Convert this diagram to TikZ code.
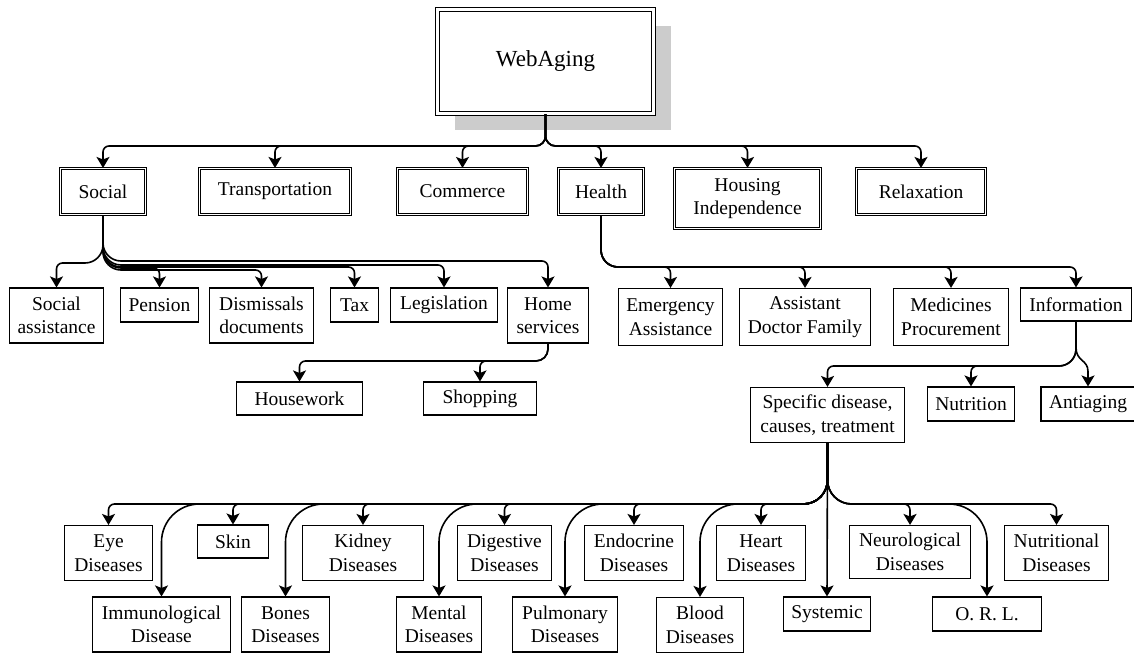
\documentclass[tikz,border=0pt]{standalone}
\usepackage{fontspec}
\setmainfont{Liberation Serif}
\usetikzlibrary{arrows.meta,calc,shadows}

\begin{document}
\begin{tikzpicture}[x=1pt, y=-1pt,
        box/.style={draw, line width=1.1pt, inner xsep=8pt, inner ysep=2pt, align=center,
            font=\fontsize{19.5}{23.5}\selectfont, minimum height=34pt},
        tallbox/.style={box, minimum height=55pt},
        topbox/.style={box, double, line width=1.1pt, double distance=1.4pt, minimum height=46pt},
        link/.style={line width=1.6pt, -{Stealth[length=11pt, width=13pt, inset=2.5pt]}}]
        \useasboundingbox (0,0) rectangle (1134,655);

        \node[draw, double, double distance=2.5pt, line width=1.3pt, fill=white,
            minimum width=216pt, minimum height=104pt, font=\fontsize{23}{27}\selectfont,
            drop shadow={shadow xshift=17pt, shadow yshift=-17pt, fill=black!20, opacity=1}]
            (web) at (545.5,61.5) {WebAging};

        \node[topbox, minimum width=85pt] (social) at (103,191.5) {Social};
        \node[topbox, minimum width=151pt] (transport) at (275,191.5) {Transportation};
        \node[topbox, minimum width=130pt] (commerce) at (462.5,191.5) {Commerce};
        \node[topbox, minimum width=85pt] (health) at (601,191.5) {Health};
        \node[topbox, minimum width=146pt, minimum height=60pt] (housing) at (747.5,198.5) {Housing\\Independence};
        \node[topbox, minimum width=129pt] (relax) at (921,191.5) {Relaxation};

        \node[tallbox, minimum width=92pt] (assist) at (56.5,315.5) {Social\\assistance};
        \node[box, minimum width=76pt] (pension) at (159.5,305) {Pension};
        \node[tallbox, minimum width=104pt] (dismiss) at (261.5,315.5) {Dismissals\\documents};
        \node[box, minimum width=48pt] (tax) at (354.5,305) {Tax};
        \node[box, minimum width=107pt] (legis) at (444,305) {Legislation};
        \node[tallbox, minimum width=81pt] (home) at (548,315.5) {Home\\services};

        \node[tallbox, minimum width=104pt, minimum height=57pt] (emergency) at (670.5,317) {Emergency\\Assistance};
        \node[tallbox, minimum width=131pt, minimum height=57pt] (doctor) at (805,317) {Assistant\\Doctor Family};
        \node[tallbox, minimum width=115pt, minimum height=57pt] (medicines) at (951,317) {Medicines\\Procurement};
        \node[box, minimum width=111pt, minimum height=33pt] (info) at (1076,304.5) {Information};

        \node[box, minimum width=126pt, minimum height=33pt] (housework) at (299.5,398.5) {Housework};
        \node[box, minimum width=113pt, minimum height=33pt] (shopping) at (480,398.5) {Shopping};

        \node[tallbox, minimum width=154pt] (specific) at (827.5,415) {Specific disease,\\causes, treatment};
        \node[box, minimum width=87pt] (nutrition) at (971,404) {Nutrition};
        \node[box, minimum width=88pt] (antiaging) at (1088,404) {Antiaging};

        \node[tallbox, minimum width=88pt] (eye) at (108.5,553) {Eye\\Diseases};
        \node[box, minimum width=71pt, minimum height=33pt] (skin) at (233,541.5) {Skin};
        \node[tallbox, minimum width=121pt] (kidney) at (363,553) {Kidney\\Diseases};
        \node[tallbox, minimum width=94pt] (digestive) at (504.5,553) {Digestive\\Diseases};
        \node[tallbox, minimum width=99pt] (endocrine) at (634,553) {Endocrine\\Diseases};
        \node[tallbox, minimum width=89pt] (heart) at (761,553) {Heart\\Diseases};
        \node[tallbox, minimum width=121pt, minimum height=53pt] (neuro) at (910,552) {Neurological\\Diseases};
        \node[tallbox, minimum width=104pt] (nutritional) at (1056.5,553) {Nutritional\\Diseases};

        \node[tallbox, minimum width=138pt] (immuno) at (161.5,624.5) {Immunological\\Disease};
        \node[tallbox, minimum width=88pt] (bones) at (285.5,624.5) {Bones\\Diseases};
        \node[tallbox, minimum width=85pt] (mental) at (439,624.5) {Mental\\Diseases};
        \node[tallbox, minimum width=105pt] (pulmonary) at (565,624.5) {Pulmonary\\Diseases};
        \node[tallbox, minimum width=87pt] (blood) at (700,625) {Blood\\Diseases};
        \node[box, minimum width=87pt] (systemic) at (827,614) {Systemic};
        \node[box, minimum width=109pt] (orl) at (987,614) {O. R. L.};

        \draw[link, rounded corners=10pt] (web.south) -- (web.south |- 0,146) [rounded corners=6pt] -- (social.north |- 0,146) -- (social.north);
        \draw[link, rounded corners=10pt] (web.south) -- (web.south |- 0,146) [rounded corners=6pt] -- (transport.north |- 0,146) -- (transport.north);
        \draw[link, rounded corners=10pt] (web.south) -- (web.south |- 0,146) [rounded corners=6pt] -- (commerce.north |- 0,146) -- (commerce.north);
        \draw[link, rounded corners=10pt] (web.south) -- (web.south |- 0,146) [rounded corners=6pt] -- (health.north |- 0,146) -- (health.north);
        \draw[link, rounded corners=10pt] (web.south) -- (web.south |- 0,146) [rounded corners=6pt] -- (housing.north |- 0,146) -- (housing.north);
        \draw[link, rounded corners=10pt] (web.south) -- (web.south |- 0,146) [rounded corners=6pt] -- (relax.north |- 0,146) -- (relax.north);

        \draw[link, rounded corners=18pt] (social.south) -- (social.south |- 0,263) [rounded corners=6pt] -- (assist.north |- 0,263) -- (assist.north);
        \draw[link, rounded corners=18pt] (social.south) -- (social.south |- 0,268) [rounded corners=6pt] -- (pension.north |- 0,268) -- (pension.north);
        \draw[link, rounded corners=18pt] (social.south) -- (social.south |- 0,270) [rounded corners=6pt] -- (dismiss.north |- 0,270) -- (dismiss.north);
        \draw[link, rounded corners=18pt] (social.south) -- (social.south |- 0,267) [rounded corners=6pt] -- (tax.north |- 0,267) -- (tax.north);
        \draw[link, rounded corners=18pt] (social.south) -- (social.south |- 0,265) [rounded corners=6pt] -- (legis.north |- 0,265) -- (legis.north);
        \draw[link, rounded corners=18pt] (social.south) -- (social.south |- 0,261) [rounded corners=6pt] -- (home.north |- 0,261) -- (home.north);

        \draw[link, rounded corners=17pt] (health.south) -- (health.south |- 0,267) [rounded corners=6pt] -- (emergency.north |- 0,267) -- (emergency.north);
        \draw[link, rounded corners=17pt] (health.south) -- (health.south |- 0,267) [rounded corners=6pt] -- (doctor.north |- 0,267) -- (doctor.north);
        \draw[link, rounded corners=17pt] (health.south) -- (health.south |- 0,267) [rounded corners=6pt] -- (medicines.north |- 0,267) -- (medicines.north);
        \draw[link, rounded corners=17pt] (health.south) -- (health.south |- 0,267) [rounded corners=6pt] -- (info.north |- 0,267) -- (info.north);

        \draw[link, rounded corners=12pt] (home.south) -- (home.south |- 0,361) [rounded corners=6pt] -- (housework.north |- 0,361) -- (housework.north);
        \draw[link, rounded corners=12pt] (home.south) -- (home.south |- 0,361) [rounded corners=6pt] -- (shopping.north |- 0,361) -- (shopping.north);

        \draw[link, rounded corners=17pt] (info.south) -- (info.south |- 0,366) [rounded corners=6pt] -- (specific.north |- 0,366) -- (specific.north);
        \draw[link, rounded corners=17pt] (info.south) -- (info.south |- 0,366) [rounded corners=6pt] -- (nutrition.north |- 0,366) -- (nutrition.north);
        \draw[link] (info.south) -- ($(info.south)+(0,26)$) .. controls +(0,14) and +(0,-12) .. ($(antiaging.north)+(0,-15)$) -- (antiaging.north);

        \draw[link, rounded corners=24pt] (specific.south) -- (specific.south |- 0,504) [rounded corners=6pt] -- (eye.north |- 0,504) -- (eye.north);
        \draw[link, rounded corners=24pt] (specific.south) -- (specific.south |- 0,504) [rounded corners=6pt] -- (skin.north |- 0,504) -- (skin.north);
        \draw[link, rounded corners=24pt] (specific.south) -- (specific.south |- 0,504) [rounded corners=6pt] -- (kidney.north |- 0,504) -- (kidney.north);
        \draw[link, rounded corners=24pt] (specific.south) -- (specific.south |- 0,504) [rounded corners=6pt] -- (digestive.north |- 0,504) -- (digestive.north);
        \draw[link, rounded corners=24pt] (specific.south) -- (specific.south |- 0,504) [rounded corners=6pt] -- (endocrine.north |- 0,504) -- (endocrine.north);
        \draw[link, rounded corners=24pt] (specific.south) -- (specific.south |- 0,504) [rounded corners=6pt] -- (heart.north |- 0,504) -- (heart.north);
        \draw[link, rounded corners=24pt] (specific.south) -- (specific.south |- 0,504) [rounded corners=6pt] -- (neuro.north |- 0,504) -- (neuro.north);
        \draw[link, rounded corners=24pt] (specific.south) -- (specific.south |- 0,504) [rounded corners=6pt] -- (nutritional.north |- 0,504) -- (nutritional.north);

        \draw[link, rounded corners=24pt] (specific.south) -- (specific.south |- 0,504) [rounded corners=38pt] -- (immuno.north |- 0,504) -- (immuno.north);
        \draw[link, rounded corners=24pt] (specific.south) -- (specific.south |- 0,504) [rounded corners=38pt] -- (bones.north |- 0,504) -- (bones.north);
        \draw[link, rounded corners=24pt] (specific.south) -- (specific.south |- 0,504) [rounded corners=38pt] -- (mental.north |- 0,504) -- (mental.north);
        \draw[link, rounded corners=24pt] (specific.south) -- (specific.south |- 0,504) [rounded corners=38pt] -- (pulmonary.north |- 0,504) -- (pulmonary.north);
        \draw[link, rounded corners=24pt] (specific.south) -- (specific.south |- 0,504) [rounded corners=38pt] -- (blood.north |- 0,504) -- (blood.north);
        \draw[link] (specific.south) -- (systemic.north);
        \draw[link, rounded corners=24pt] (specific.south) -- (specific.south |- 0,504) [rounded corners=38pt] -- (orl.north |- 0,504) -- (orl.north);
    \end{tikzpicture}
\end{document}
